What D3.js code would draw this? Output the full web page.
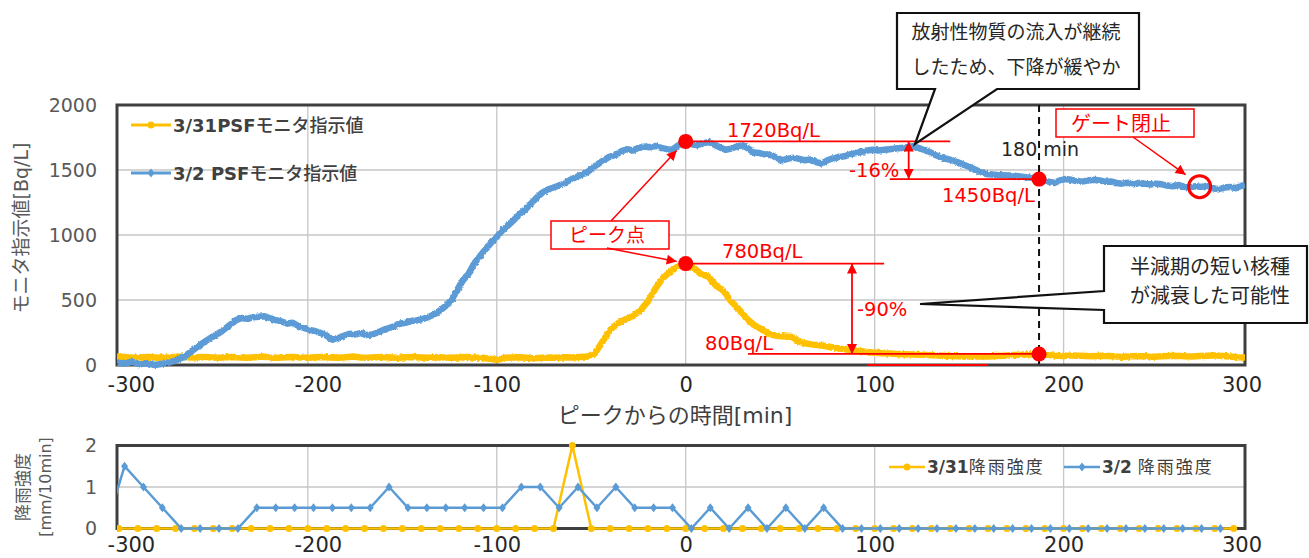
<!DOCTYPE html>
<html>
<head>
<meta charset="utf-8">
<script src="https://cdn.jsdelivr.net/npm/d3@7"></script>
<style>
  html, body { margin: 0; padding: 0; background: #fff; }
  svg { display: block; }
  text { font-family: "DejaVu Sans", "Noto Sans CJK JP", sans-serif; }
  .jp { font-family: "Noto Sans CJK JP", "DejaVu Sans", sans-serif; }
</style>
</head>
<body>
<svg id="chart" width="1309" height="558"></svg>
<script>
// ── DATA ────────────────────────────────────────────────────────────────
// 3/2 PSFモニタ指示値 [min, Bq/L]
const psf0302 = [
  [-301,20],[-297,10],[-293,25],[-289,5],[-285,15],[-281,0],[-277,10],[-273,20],[-270,35],[-266,60],
  [-262,100],[-258,145],[-254,185],[-250,220],[-246,255],[-242,300],[-238,345],[-235,362],[-232,355],[-229,368],
  [-226,372],[-223,375],[-220,360],[-217,345],[-214,335],[-211,320],[-208,325],[-205,300],[-202,285],[-199,270],
  [-196,260],[-193,245],[-190,225],[-187,195],[-184,210],[-181,225],[-178,240],[-175,235],[-172,245],[-169,230],
  [-166,235],[-163,250],[-160,270],[-157,285],[-154,300],[-151,320],[-148,325],[-145,340],[-142,345],[-139,355],
  [-136,370],[-133,390],[-130,420],[-127,455],[-124,500],[-121,575],[-118,650],[-115,700],[-112,780],[-109,835],
  [-106,890],[-103,940],[-100,985],[-97,1035],[-94,1075],[-91,1115],[-88,1160],[-85,1195],[-82,1240],[-79,1285],
  [-76,1325],[-73,1350],[-70,1365],[-67,1380],[-64,1400],[-61,1425],[-58,1445],[-55,1465],[-52,1485],[-49,1520],
  [-46,1550],[-43,1580],[-40,1605],[-37,1615],[-34,1645],[-31,1660],[-28,1650],[-25,1670],[-22,1680],[-19,1675],
  [-16,1685],[-13,1670],[-10,1660],[-7,1655],[-4,1690],[-2,1705],[0,1715],[3,1700],[6,1690],[9,1705],
  [12,1715],[15,1695],[18,1675],[21,1655],[24,1665],[27,1680],[30,1690],[33,1665],[36,1635],[39,1630],
  [42,1620],[45,1615],[48,1595],[51,1575],[54,1585],[57,1595],[60,1585],[63,1575],[66,1580],[69,1560],
  [72,1550],[75,1575],[78,1590],[81,1600],[84,1605],[87,1620],[90,1630],[93,1640],[96,1650],[99,1655],
  [102,1650],[105,1655],[108,1660],[111,1665],[114,1670],[117,1675],[120,1680],[123,1670],[126,1655],[129,1640],
  [132,1615],[135,1600],[138,1585],[141,1575],[144,1560],[147,1540],[150,1525],[153,1505],[156,1485],[159,1470],
  [162,1465],[165,1462],[168,1460],[171,1458],[174,1455],[177,1450],[180,1445],[183,1440],[186,1432],[189,1425],
  [192,1410],[195,1400],[198,1420],[201,1430],[204,1425],[207,1415],[210,1410],[213,1420],[216,1425],[219,1420],
  [222,1410],[225,1412],[228,1400],[231,1395],[234,1402],[237,1390],[240,1400],[243,1395],[246,1388],[249,1395],
  [252,1390],[255,1380],[258,1375],[261,1385],[264,1370],[267,1368],[270,1375],[273,1370],[276,1380],[279,1360],
  [282,1352],[285,1365],[288,1370],[291,1360],[294,1378],[296,1385]
];

// 3/31 PSFモニタ指示値 [min, Bq/L]
const psf0331 = [
  [-301,65],[-296,60],[-292,55],[-288,60],[-284,62],[-280,55],[-276,58],[-272,60],[-268,65],[-264,60],
  [-260,58],[-256,62],[-252,60],[-248,55],[-244,60],[-240,62],[-236,58],[-232,55],[-228,60],[-224,65],
  [-220,58],[-216,55],[-212,60],[-208,62],[-204,58],[-200,55],[-196,60],[-192,62],[-188,58],[-184,55],
  [-180,60],[-176,65],[-172,58],[-168,55],[-164,60],[-160,62],[-156,58],[-152,55],[-148,60],[-144,62],
  [-140,58],[-136,55],[-132,60],[-128,58],[-124,55],[-120,58],[-116,62],[-112,58],[-108,55],[-104,48],
  [-100,40],[-96,55],[-92,58],[-88,60],[-84,55],[-80,52],[-76,55],[-72,58],[-68,55],[-64,60],
  [-60,58],[-56,62],[-52,65],[-48,90],[-44,180],[-40,270],[-36,320],[-32,350],[-28,375],[-24,420],
  [-20,490],[-16,590],[-12,670],[-8,720],[-4,760],[0,780],[4,750],[8,700],[12,680],[16,610],
  [20,570],[24,490],[28,430],[32,360],[36,310],[40,275],[44,240],[48,225],[52,220],[56,215],
  [60,180],[64,165],[68,155],[72,150],[76,140],[80,130],[84,120],[88,112],[92,108],[96,100],
  [100,95],[104,90],[108,88],[112,85],[116,82],[120,80],[124,78],[128,76],[132,75],[136,72],
  [140,70],[144,68],[148,66],[152,67],[156,65],[160,66],[164,70],[168,72],[172,75],[176,78],
  [180,80],[184,82],[188,80],[192,76],[196,72],[200,70],[204,74],[208,72],[212,70],[216,68],
  [220,72],[224,70],[228,66],[232,64],[236,68],[240,70],[244,66],[248,64],[252,68],[256,70],
  [260,72],[264,68],[268,66],[272,70],[276,72],[280,74],[284,70],[288,65],[292,60],[296,58]
];

// 降雨強度 [mm/10min]
const rain0331Time = [-300,-290,-280,-270,-260,-250,-240,-230,-220,-210,-200,-190,-180,-170,-160,-150,-140,-130,-120,-110,
  -100,-90,-80,-70,-60,-50,-40,-30,-20,-10,0,10,20,30,40,50,60,70,80,90,
  100,110,120,130,140,150,160,170,180,190,200,210,220,230,240,250,260,270,280,290];
const rain0331Value = [0,0,0,0,0,0,0,0,0,0,0,0,0,0,0,0,0,0,0,0,
  0,0,0,0,2,0,0,0,0,0,0,0,0,0,0,0,0,0,0,0,
  0,0,0,0,0,0,0,0,0,0,0,0,0,0,0,0,0,0,0,0];
const rain0302Time = [-307,-297,-287,-277,-267,-257,-247,-237,-227,-217,-207,-197,-187,-177,-167,-157,-147,-137,-127,-117,
  -107,-97,-87,-77,-67,-57,-47,-37,-27,-17,-7,3,13,23,33,43,53,63,73,83,
  93,103,113,123,133,143,153,163,173,183,193,203,213,223,233,243,253,263,273,283];
const rain0302Value = [0,1.5,1,0.5,0,0,0,0,0.5,0.5,0.5,0.5,0.5,0.5,0.5,1,0.5,0.5,0.5,0.5,
  0.5,0.5,1,1,0.5,1,0.5,1,0.5,0.5,0.5,0,0.5,0,0.5,0,0.5,0,0.5,0,
  0,0,0,0,0,0,0,0,0,0,0,0,0,0,0,0,0,0,0,0];

// Axes
const xTickVals  = [-300, -200, -100, 0, 100, 200, 300];
const xGridVals  = [-200, -100, 0, 100, 200];
const topYTicks  = [0, 500, 1000, 1500, 2000];
const topYGrid   = [500, 1000, 1500];
const botYTicks  = [0, 1, 2];
const botYGrid   = [1];

// Annotations (data units)
const peaks      = [[0, 1720], [0, 780]];
const after180   = [[187, 1430], [187, 85]];
const levelLines = [[0, 140, 1720], [108, 187, 1430], [0, 105, 780], [33, 187, 85], [96, 160, 0]];
const dropArrows = [[118, 1720, 1430], [88, 780, 85]];
const gatePoint  = [272, 1372];

// ── LAYOUT ──────────────────────────────────────────────────────────────
const BLUE = '#5b9bd5', YELLOW = '#ffc000', RED = '#ff0000', FRAME = '#3f3f3f', GRID = '#c6c6c6';
const svg = d3.select('#chart');

const x    = d3.scaleLinear().domain([-301, 296]).range([117, 1245]);
const yTop = d3.scaleLinear().domain([0, 2000]).range([365, 105]);
const yBot = d3.scaleLinear().domain([0, 2]).range([528.5, 445.5]);

const defs = svg.append('defs');
defs.append('clipPath').attr('id', 'clipX')
  .append('rect').attr('x', 117).attr('y', 0).attr('width', 1128).attr('height', 558);
defs.append('marker').attr('id', 'arr')
  .attr('viewBox', '0 0 10 10').attr('refX', 10).attr('refY', 5)
  .attr('markerWidth', 12).attr('markerHeight', 10)
  .attr('markerUnits', 'userSpaceOnUse').attr('orient', 'auto-start-reverse')
  .append('path').attr('d', 'M0,0L10,5L0,10Z').attr('fill', RED);
// ragged edge like the logged monitor trace
const rough = defs.append('filter').attr('id', 'rough')
  .attr('x', '-2%').attr('y', '-10%').attr('width', '104%').attr('height', '120%');
rough.append('feTurbulence').attr('type', 'fractalNoise').attr('baseFrequency', 0.35)
  .attr('numOctaves', 2).attr('seed', 7).attr('result', 'n');
rough.append('feDisplacementMap').attr('in', 'SourceGraphic').attr('in2', 'n')
  .attr('scale', 3).attr('xChannelSelector', 'R').attr('yChannelSelector', 'G');

const labelShift = { '-300': 12, '-200': 10, '300': -11 };

function panel(y, yTicks, yGrid, axisY) {
  const g = svg.append('g');
  const [yb, yt] = y.range();
  g.selectAll('.vg').data(xGridVals).join('line')
    .attr('x1', d => x(d)).attr('x2', d => x(d)).attr('y1', yt).attr('y2', yb)
    .attr('stroke', GRID).attr('stroke-width', 1.3);
  g.selectAll('.hg').data(yGrid).join('line')
    .attr('x1', 117).attr('x2', 1245).attr('y1', d => y(d)).attr('y2', d => y(d))
    .attr('stroke', GRID).attr('stroke-width', 1.3);
  g.append('rect').attr('x', 117).attr('y', yt).attr('width', 1128).attr('height', yb - yt)
    .attr('fill', 'none').attr('stroke', FRAME).attr('stroke-width', 3);

  const ya = g.append('g').attr('transform', 'translate(100,0)')
    .call(d3.axisLeft(y).tickValues(yTicks).tickFormat(d => String(d)).tickSize(0).tickPadding(3));
  ya.select('.domain').remove();
  ya.selectAll('text').attr('font-size', 19).attr('fill', '#595959')
    .attr('font-family', '"DejaVu Sans", sans-serif');

  const xa = g.append('g').attr('transform', `translate(0,${axisY})`)
    .call(d3.axisBottom(x).tickValues(xTickVals).tickFormat(d => String(d)).tickSize(0).tickPadding(0));
  xa.select('.domain').remove();
  xa.selectAll('text').attr('font-size', 21).attr('fill', '#262626')
    .attr('font-family', '"DejaVu Sans", sans-serif')
    .attr('dx', d => labelShift[d] || 0);
  return g;
}

// ── TOP PANEL ───────────────────────────────────────────────────────────
panel(yTop, topYTicks, topYGrid, 377);

const lineTop = d3.line().x(d => x(d[0])).y(d => yTop(d[1]));
const series = svg.append('g').attr('clip-path', 'url(#clipX)');
series.append('path').datum(psf0331).attr('d', lineTop).attr('filter', 'url(#rough)')
  .attr('fill', 'none').attr('stroke', YELLOW).attr('stroke-width', 6.5).attr('stroke-linejoin', 'round');
series.append('path').datum(psf0302).attr('d', lineTop).attr('filter', 'url(#rough)')
  .attr('fill', 'none').attr('stroke', BLUE).attr('stroke-width', 6.5).attr('stroke-linejoin', 'round');

// axis titles
svg.append('text').attr('transform', 'translate(21,228) rotate(-90)')
  .attr('text-anchor', 'middle').attr('dominant-baseline', 'central')
  .attr('font-size', 19).attr('fill', '#595959').text('モニタ指示値[Bq/L]');
svg.append('text').attr('x', 675).attr('y', 423).attr('text-anchor', 'middle')
  .attr('font-size', 22).attr('fill', '#404040').text('ピークからの時間[min]');

// legend (top)
const diamond = 'M0,-4.5L3.5,0L0,4.5L-3.5,0Z';
const topLegend = [
  { num: '3/31PSF', jp: 'モニタ指示値', color: YELLOW, mark: 'circle', y: 125 },
  { num: '3/2 PSF', jp: 'モニタ指示値', color: BLUE,   mark: 'diamond', y: 173 }
];
topLegend.forEach(d => {
  svg.append('line').attr('x1', 131).attr('x2', 171).attr('y1', d.y).attr('y2', d.y)
    .attr('stroke', d.color).attr('stroke-width', 3);
  if (d.mark === 'circle') svg.append('circle').attr('cx', 151).attr('cy', d.y).attr('r', 3.5).attr('fill', d.color);
  else svg.append('path').attr('d', diamond).attr('transform', `translate(151,${d.y})`).attr('fill', d.color);
  const t = svg.append('text').attr('x', 173).attr('y', d.y + 7).attr('font-size', 18).attr('fill', '#404040');
  t.append('tspan').attr('font-weight', 'bold').text(d.num);
  t.append('tspan').attr('class', 'jp').attr('font-weight', 500).text(d.jp);
});

// ── ANNOTATIONS ─────────────────────────────────────────────────────────
const ann = svg.append('g');
ann.selectAll('.lvl').data(levelLines).join('line')
  .attr('x1', d => x(d[0])).attr('x2', d => x(d[1])).attr('y1', d => yTop(d[2])).attr('y2', d => yTop(d[2]))
  .attr('stroke', RED).attr('stroke-width', 1.8);
ann.selectAll('.drop').data(dropArrows).join('line')
  .attr('x1', d => x(d[0])).attr('x2', d => x(d[0])).attr('y1', d => yTop(d[1])).attr('y2', d => yTop(d[2]))
  .attr('stroke', RED).attr('stroke-width', 1.8)
  .attr('marker-start', 'url(#arr)').attr('marker-end', 'url(#arr)');

// 180 min dashed line
ann.append('line').attr('x1', x(187)).attr('x2', x(187)).attr('y1', yTop(2000)).attr('y2', yTop(0))
  .attr('stroke', '#111').attr('stroke-width', 2).attr('stroke-dasharray', '7,5');
ann.append('text').attr('x', 1001).attr('y', 156).attr('font-size', 19).attr('fill', '#262626').text('180 min');

ann.selectAll('.pk').data(peaks.concat(after180)).join('circle')
  .attr('cx', d => x(d[0])).attr('cy', d => yTop(d[1])).attr('r', 7.5).attr('fill', RED);
ann.append('circle').attr('cx', x(gatePoint[0])).attr('cy', yTop(gatePoint[1])).attr('r', 11)
  .attr('fill', 'none').attr('stroke', RED).attr('stroke-width', 3);

const redLabels = [
  ['1720Bq/L', 727, 137], ['-16%', 849, 177], ['1450Bq/L', 942, 202],
  ['780Bq/L', 722, 258], ['-90%', 857, 316], ['80Bq/L', 705, 350]
];
ann.selectAll('.rl').data(redLabels).join('text')
  .attr('x', d => d[1]).attr('y', d => d[2]).attr('font-size', 19.5).attr('fill', RED).text(d => d[0]);

// ピーク点 box
ann.append('rect').attr('x', 551).attr('y', 221).attr('width', 118).attr('height', 28)
  .attr('fill', '#fff').attr('stroke', RED).attr('stroke-width', 1.5);
ann.append('text').attr('class', 'jp').attr('x', 607).attr('y', 242).attr('text-anchor', 'middle')
  .attr('font-size', 19).attr('fill', RED).text('ピーク点');
ann.append('line').attr('x1', 611).attr('y1', 221).attr('x2', x(0) - 9).attr('y2', yTop(1720) + 9)
  .attr('stroke', RED).attr('stroke-width', 1.5).attr('marker-end', 'url(#arr)');
ann.append('line').attr('x1', 607).attr('y1', 248).attr('x2', x(0) - 9).attr('y2', yTop(780) - 2)
  .attr('stroke', RED).attr('stroke-width', 1.5).attr('marker-end', 'url(#arr)');

// ゲート閉止 box
ann.append('rect').attr('x', 1056).attr('y', 109).attr('width', 138).attr('height', 28)
  .attr('fill', '#fff').attr('stroke', RED).attr('stroke-width', 1.5);
ann.append('text').attr('class', 'jp').attr('x', 1121).attr('y', 131).attr('text-anchor', 'middle')
  .attr('font-size', 20).attr('fill', RED).text('ゲート閉止');
ann.append('line').attr('x1', 1133).attr('y1', 137).attr('x2', x(gatePoint[0]) - 14).attr('y2', yTop(gatePoint[1]) - 12)
  .attr('stroke', RED).attr('stroke-width', 1.5).attr('marker-end', 'url(#arr)');

// callouts
ann.append('path')
  .attr('d', 'M897,13H1139V89H997L915,144L935,89H897Z')
  .attr('fill', '#fff').attr('stroke', '#111').attr('stroke-width', 2.2).attr('stroke-linejoin', 'miter');
ann.append('text').attr('class', 'jp').attr('x', 1016).attr('y', 39).attr('text-anchor', 'middle')
  .attr('font-size', 19).attr('fill', '#262626').text('放射性物質の流入が継続');
ann.append('text').attr('class', 'jp').attr('x', 1016).attr('y', 74).attr('text-anchor', 'middle')
  .attr('font-size', 19).attr('fill', '#262626').text('したため、下降が緩やか');

ann.append('path')
  .attr('d', 'M1104,246H1307V323H1104V310L920,304L1104,291Z')
  .attr('fill', '#fff').attr('stroke', '#111').attr('stroke-width', 2.2);
ann.append('text').attr('class', 'jp').attr('x', 1210).attr('y', 274).attr('text-anchor', 'middle')
  .attr('font-size', 20).attr('fill', '#262626').text('半減期の短い核種');
ann.append('text').attr('class', 'jp').attr('x', 1210).attr('y', 303).attr('text-anchor', 'middle')
  .attr('font-size', 20).attr('fill', '#262626').text('が減衰した可能性');

// ── BOTTOM PANEL ────────────────────────────────────────────────────────
panel(yBot, botYTicks, botYGrid, 537);

svg.append('text').attr('class', 'jp').attr('transform', 'translate(21,487) rotate(-90)')
  .attr('text-anchor', 'middle').attr('dominant-baseline', 'central')
  .attr('font-size', 17).attr('fill', '#595959').text('降雨強度');
svg.append('text').attr('transform', 'translate(45,487) rotate(-90)')
  .attr('text-anchor', 'middle').attr('dominant-baseline', 'central')
  .attr('font-size', 16).attr('fill', '#595959').text('[mm/10min]');

const rainY = d3.zip(rain0331Time, rain0331Value);
const rainB = d3.zip(rain0302Time, rain0302Value);
const lineBot = d3.line().x(d => x(d[0])).y(d => yBot(d[1]));
const rain = svg.append('g').attr('clip-path', 'url(#clipX)');
rain.append('path').datum(rainY).attr('d', lineBot)
  .attr('fill', 'none').attr('stroke', YELLOW).attr('stroke-width', 2.5);
rain.selectAll('.ym').data(rainY).join('circle')
  .attr('cx', d => x(d[0])).attr('cy', d => yBot(d[1])).attr('r', 3.5).attr('fill', YELLOW);
rain.append('path').datum(rainB).attr('d', lineBot)
  .attr('fill', 'none').attr('stroke', BLUE).attr('stroke-width', 2.5);
rain.selectAll('.bm').data(rainB).join('path')
  .attr('d', diamond).attr('transform', d => `translate(${x(d[0])},${yBot(d[1])})`).attr('fill', BLUE);

// legend (bottom)
const botLegend = [
  { num: '3/31', jp: '降雨強度', color: YELLOW, mark: 'circle', x0: 889 },
  { num: '3/2 ', jp: '降雨強度', color: BLUE,   mark: 'diamond', x0: 1064 }
];
botLegend.forEach(d => {
  svg.append('line').attr('x1', d.x0).attr('x2', d.x0 + 36).attr('y1', 467).attr('y2', 467)
    .attr('stroke', d.color).attr('stroke-width', 2.5);
  if (d.mark === 'circle') svg.append('circle').attr('cx', d.x0 + 18).attr('cy', 467).attr('r', 3.5).attr('fill', d.color);
  else svg.append('path').attr('d', diamond).attr('transform', `translate(${d.x0 + 18},467)`).attr('fill', d.color);
  const t = svg.append('text').attr('x', d.x0 + 38).attr('y', 473).attr('font-size', 17).attr('fill', '#404040');
  t.append('tspan').attr('font-weight', 'bold').text(d.num);
  t.append('tspan').attr('class', 'jp').attr('letter-spacing', 2).text(d.jp);
});
</script>
</body>
</html>
